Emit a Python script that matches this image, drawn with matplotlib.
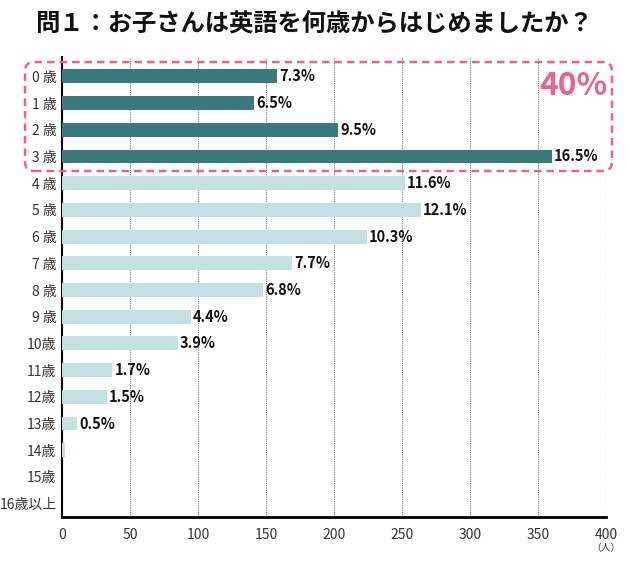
import matplotlib
matplotlib.use("Agg")
import matplotlib.pyplot as plt
from matplotlib.patches import FancyBboxPatch
from matplotlib.transforms import IdentityTransform

plt.rcParams['font.family'] = ['Noto Sans CJK JP', 'DejaVu Sans']

categories = ["0 歳", "1 歳", "2 歳", "3 歳", "4 歳", "5 歳", "6 歳", "7 歳", "8 歳", "9 歳",
              "10歳", "11歳", "12歳", "13歳", "14歳", "15歳", "16歳以上"]
values = [158, 141, 203, 360, 252, 264, 224, 169, 148, 95, 85, 37, 33, 11, 2, 0, 0]
pct_labels = ["7.3%", "6.5%", "9.5%", "16.5%", "11.6%", "12.1%", "10.3%", "7.7%", "6.8%",
              "4.4%", "3.9%", "1.7%", "1.5%", "0.5%", "", "", ""]
highlight_n = 4
xticks = [0, 50, 100, 150, 200, 250, 300, 350, 400]

dark = "#3a7a7e"
light = "#c3e0e3"
pink = "#e8648e"

fig = plt.figure(figsize=(6.28, 5.62), dpi=100)
ax = fig.add_axes([62/628, 45/562, 544/628, 460/562])

ypos = list(range(len(categories)))
colors = [dark if i < highlight_n else light for i in ypos]
ax.barh(ypos, values, height=0.52, color=colors, zorder=3)
for y, v, lab in zip(ypos, values, pct_labels):
    if lab:
        ax.text(v + 1.5, y, lab, va="center", ha="left", fontsize=10.5,
                fontweight="bold", color="#111111", zorder=4)

ax.set_xlim(0, 400)
ax.set_ylim(len(categories) - 0.5, -0.725)
ax.set_yticks(ypos)
ax.set_yticklabels(categories, fontsize=10, color="#333333")
ax.set_xticks(xticks)
ax.set_xticklabels([str(t) for t in xticks], fontsize=10, color="#333333")
ax.tick_params(length=0, pad=4)
ax.tick_params(axis="x", pad=8)
ax.xaxis.grid(True, linestyle=(0, (1, 1)), color="#777777", linewidth=0.8, zorder=0)
ax.set_axisbelow(True)
for s in ["top", "right"]:
    ax.spines[s].set_visible(False)
ax.spines["left"].set_linewidth(1.5)
ax.spines["bottom"].set_linewidth(2)
ax.spines["left"].set_color("black")
ax.spines["bottom"].set_color("black")

fig.text(0.5, 1 - 24/562, "問１：お子さんは英語を何歳からはじめましたか？", ha="center", va="center",
         fontsize=17.5, fontweight="bold", color="#111111")

fig.text(606/628, 1 - 548/562, "（人）", ha="center", va="center", fontsize=7, color="#333333")

box = FancyBboxPatch((25, 562 - 171), 612 - 25, 171 - 62,
                     boxstyle="round,pad=0,rounding_size=9",
                     transform=IdentityTransform(), fill=False,
                     edgecolor=pink, linewidth=1.8, linestyle=(0, (3, 2)))
fig.patches.append(box)

fig.text(573/628, 1 - 86/562, "40%", ha="center", va="center", fontsize=23,
         fontweight="bold", color=pink)

fig.savefig("out.png", dpi=100)
